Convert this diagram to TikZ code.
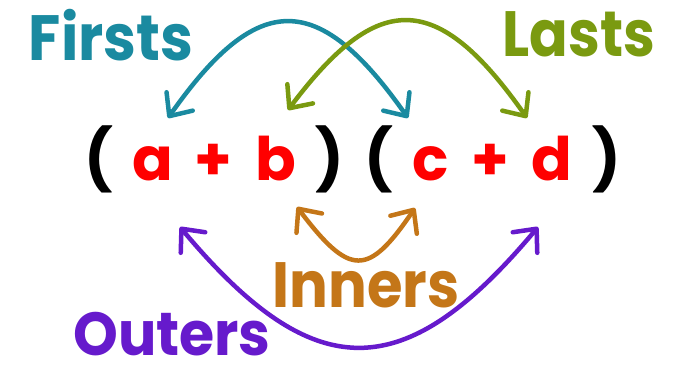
\documentclass[tikz,border=0pt]{standalone}
\usepackage{fontspec}
\setmainfont{Poppins}
\usetikzlibrary{arrows.meta}
\definecolor{firstc}{HTML}{1A8AA0}
\definecolor{lastc}{HTML}{7A9A10}
\definecolor{innerc}{HTML}{C47618}
\definecolor{outerc}{HTML}{661ACC}
\definecolor{letc}{HTML}{FF0000}
\begin{document}
\begin{tikzpicture}[x=1pt,y=-1pt,
  lbl/.style={font=\fontsize{64}{70}\selectfont\bfseries, inner sep=0pt, anchor=base},
  sym/.style={font=\fontsize{60}{64}\selectfont\bfseries, inner sep=0pt, anchor=base},
  arc/.style={line width=4.5pt, line cap=round,
    {Straight Barb[length=18pt,width=32pt,round]}-{Straight Barb[length=18pt,width=32pt,round]}}
]
\useasboundingbox (0,0) rectangle (679,364);
% labels
\node[lbl, text=firstc] (firsts) at (111,60) {\scalebox{0.92}[1]{Firsts}};
\node[lbl, text=lastc] (lasts) at (579,56) {\scalebox{0.89}[1]{Lasts}};
\node[lbl, text=innerc] (inners) at (366,307) {\scalebox{0.9}[1]{Inners}};
\node[lbl, text=outerc] (outers) at (172,355) {\scalebox{0.89}[0.95]{Outers}};
% expression
\node[sym] (p1) at (99,180) {(};
\node[sym, text=letc] (a) at (153,180) {a};
\node[sym, text=letc] (plus1) at (213,180) {+};
\node[sym, text=letc] (b) at (276,180) {b};
\node[sym] (p2) at (330,180) {)};
\node[sym] (p3) at (379,180) {(};
\node[sym, text=letc] (c) at (431,180) {c};
\node[sym, text=letc] (plus2) at (490,180) {+};
\node[sym, text=letc] (d) at (552,180) {d};
\node[sym] (p4) at (607,180) {)};
% arrow ends
\coordinate (fA) at (168,118);
\coordinate (fC) at (408,118);
\coordinate (lB) at (288,110);
\coordinate (lD) at (527,118);
\coordinate (iB) at (297,207);
\coordinate (iC) at (415,208);
\coordinate (oA) at (180,227);
\coordinate (oD) at (538,227);
% arrows
\draw[arc, firstc] (fA) .. controls (258,-10) and (318,-10) .. (fC);
\draw[arc, lastc] (lB) .. controls (378,-10) and (437,-10) .. (lD);
\draw[arc, innerc] (iB) .. controls (350,277) and (368,277) .. (iC);
\draw[arc, outerc] (oA) .. controls (314,387) and (404,387) .. (oD);
\end{tikzpicture}
\end{document}
